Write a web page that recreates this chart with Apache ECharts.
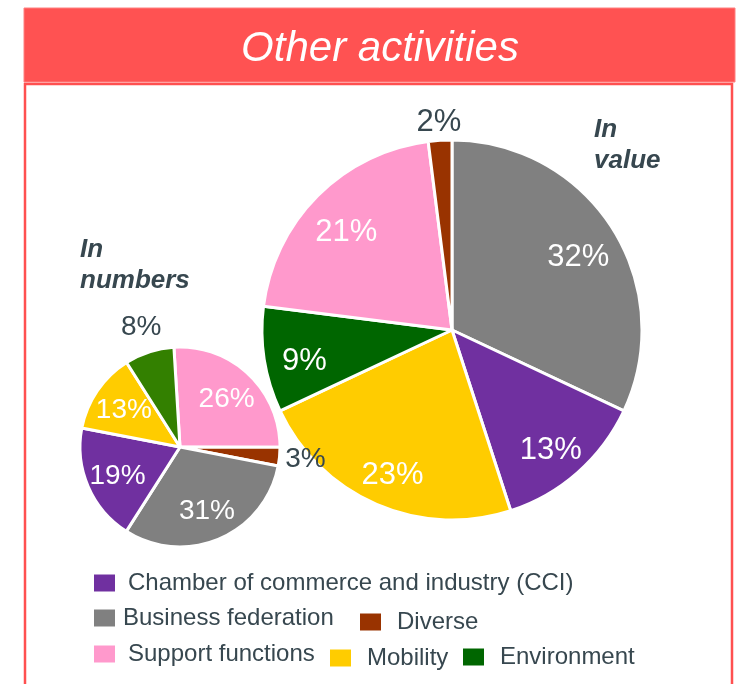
<!DOCTYPE html>
<html>
<head>
<meta charset="utf-8">
<title>Other activities</title>
<script src="https://cdn.jsdelivr.net/npm/echarts@6/dist/echarts.min.js"></script>
<style>
  html, body { margin: 0; padding: 0; background: #fff; }
  #chart { width: 738px; height: 684px; }
</style>
</head>
<body>
<div id="chart"></div>
<script>
const CCI = 'Chamber of commerce and industry (CCI)'
const BF = 'Business federation'
const DIV = 'Diverse'
const SUP = 'Support functions'
const MOB = 'Mobility'
const ENV = 'Environment'

const categories = [CCI, BF, DIV, SUP, MOB, ENV]

// "In value" pie, slices clockwise from 12 o'clock
const valueOrder = [BF, CCI, MOB, ENV, SUP, DIV]
const valueShares = [32, 13, 23, 9, 21, 2]

// "In numbers" pie, slices clockwise
const numberOrder = [SUP, DIV, BF, CCI, MOB, ENV]
const numberShares = [26, 3, 31, 19, 13, 8]

// slices labelled outside the pie
const valueOutside = [DIV]
const numberOutside = [DIV, ENV]

const colors = {
  [CCI]: '#7030A0',
  [BF]: '#808080',
  [DIV]: '#993300',
  [SUP]: '#FF99CC',
  [MOB]: '#FFCC00',
  [ENV]: '#006600',
}
const smallGreen = '#338000'
const darkText = '#37474F'
const font = '"Liberation Sans", Arial, sans-serif'

function pieSeries(names, values, cfg) {
  const base = {
    type: 'pie',
    center: cfg.center,
    startAngle: cfg.startAngle,
    clockwise: true,
    avoidLabelOverlap: false,
    labelLine: { show: false },
    emphasis: { disabled: true },
    z: cfg.z,
  }
  const labelData = outside => names.map((n, i) => ({
    name: n,
    value: values[i],
    label: { show: cfg.outside.includes(n) === outside },
  }))
  const labelStyle = {
    position: 'inside',
    formatter: '{c}%',
    fontSize: cfg.fontSize,
    fontFamily: font,
  }
  return [
    {
      ...base,
      radius: [0, cfg.r],
      data: names.map((n, i) => ({
        name: n,
        value: values[i],
        itemStyle: { color: cfg.colorOf(n) },
      })),
      label: { show: false },
      itemStyle: { borderColor: '#fff', borderWidth: 3 },
    },
    {
      ...base,
      silent: true,
      radius: [cfg.inner, cfg.r],
      data: labelData(false),
      itemStyle: { color: 'transparent' },
      label: { ...labelStyle, color: '#fff', offset: cfg.innerOffset },
    },
    {
      ...base,
      silent: true,
      radius: [cfg.r, cfg.outer],
      data: labelData(true),
      itemStyle: { color: 'transparent' },
      label: { ...labelStyle, color: darkText },
    },
  ]
}

const series = [
  ...pieSeries(valueOrder, valueShares, {
    center: [452, 330], r: 190, inner: 103, outer: 220, startAngle: 90,
    fontSize: 31, outside: valueOutside, colorOf: n => colors[n], z: 2,
    innerOffset: [0, 8],
  }),
  ...pieSeries(numberOrder, numberShares, {
    center: [180, 447], r: 100, inner: 30, outer: 146, startAngle: 93.5,
    fontSize: 28, outside: numberOutside,
    colorOf: n => (n === ENV ? smallGreen : colors[n]), z: 3,
    innerOffset: [0, 2],
  }),
]

// legend item placement: [left, top, gap between swatch and text]
const legendSpots = {
  [CCI]: [94, 571, 13],
  [BF]: [94, 606, 8],
  [DIV]: [360, 610, 16],
  [SUP]: [94, 642, 13],
  [MOB]: [330, 646, 16],
  [ENV]: [463, 645, 16],
}

const legend = categories.map(name => ({
  data: [name],
  left: legendSpots[name][0],
  top: legendSpots[name][1],
  padding: 0,
  icon: 'rect',
  itemWidth: 21,
  itemHeight: 17,
  selectedMode: false,
  itemStyle: { borderWidth: 0 },
  textStyle: {
    fontSize: 24,
    fontFamily: font,
    color: darkText,
    padding: [0, 0, 0, legendSpots[name][2] - 5],
  },
}))

const chart = echarts.init(document.getElementById('chart'))
chart.setOption({
  backgroundColor: '#fff',
  animation: false,
  graphic: [
    {
      type: 'rect',
      shape: { x: 24, y: 8, width: 711, height: 74 },
      style: { fill: '#FF5252', stroke: '#FF8080', lineWidth: 1 },
      z: 0,
    },
    {
      type: 'rect',
      shape: { x: 25, y: 84, width: 707, height: 640 },
      style: { fill: 'none', stroke: '#FF5050', lineWidth: 2.5 },
      z: 0,
    },
  ],
  title: [
    {
      text: 'Other activities',
      left: 380,
      textAlign: 'center',
      top: 28,
      padding: 0,
      textStyle: { color: '#fff', fontSize: 42, fontStyle: 'italic', fontWeight: 'normal', fontFamily: font },
    },
    {
      text: 'In\nvalue',
      left: 594,
      top: 114,
      padding: 0,
      textStyle: { color: darkText, fontSize: 26, fontStyle: 'italic', fontWeight: 'bold', lineHeight: 31, fontFamily: font },
    },
    {
      text: 'In\nnumbers',
      left: 80,
      top: 234,
      padding: 0,
      textStyle: { color: darkText, fontSize: 26, fontStyle: 'italic', fontWeight: 'bold', lineHeight: 31, fontFamily: font },
    },
  ],
  legend,
  series,
})
</script>
</body>
</html>
